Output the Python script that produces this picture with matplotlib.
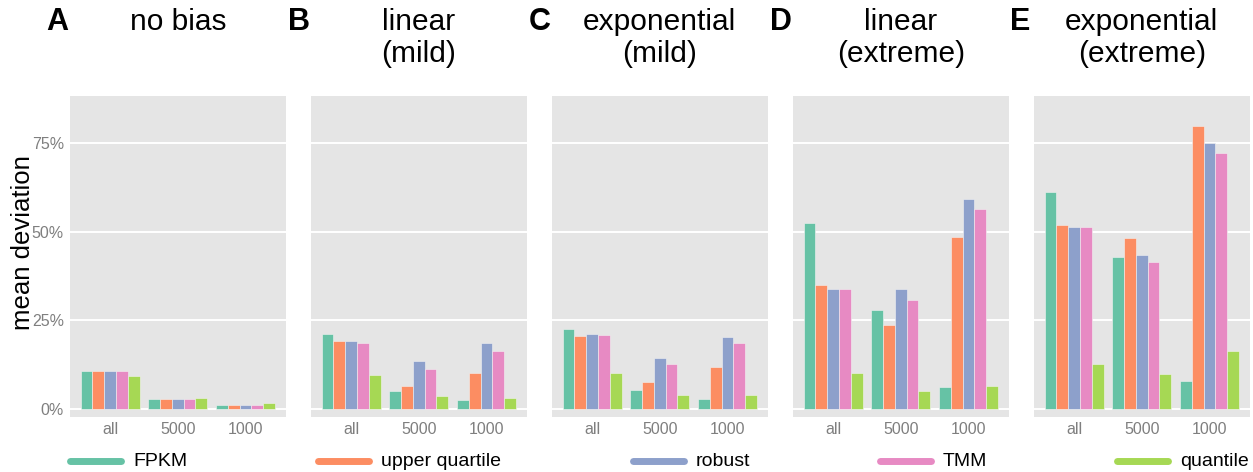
import matplotlib

matplotlib.use("Agg")
import matplotlib.pyplot as plt
import numpy as np
from matplotlib.lines import Line2D

plt.rcParams["font.family"] = ["Liberation Sans", "DejaVu Sans"]

# Daten
groups = ["all", "5000", "1000"]
methods = ["FPKM", "upper quartile", "robust", "TMM", "quantile"]
colors = ["#66C2A5", "#FC8D62", "#8DA0CB", "#E78AC3", "#A6D854"]
letters = ["A", "B", "C", "D", "E"]
titles = ["no bias", "linear\n(mild)", "exponential\n(mild)",
          "linear\n(extreme)", "exponential\n(extreme)"]

# mean deviation in %, one list per panel: rows = method, cols = group
no_bias = [[10.8, 2.7, 1.2], [10.8, 2.7, 1.2], [10.8, 2.7, 1.2],
           [10.8, 2.7, 1.2], [9.3, 3.0, 1.6]]
linear_mild = [[21.2, 5.0, 2.4], [19.1, 6.6, 10.1], [19.1, 13.4, 18.7],
               [18.7, 11.3, 16.4], [9.7, 3.6, 3.1]]
exp_mild = [[22.5, 5.2, 2.7], [20.6, 7.5, 11.9], [21.2, 14.4, 20.3],
            [20.9, 12.7, 18.5], [10.1, 3.9, 3.8]]
linear_extreme = [[52.6, 28.0, 6.1], [34.9, 23.6, 48.4], [33.9, 33.9, 59.2],
                  [33.9, 30.6, 56.3], [10.1, 5.0, 6.4]]
exp_extreme = [[61.2, 42.9, 7.8], [51.8, 48.3, 79.9], [51.4, 43.4, 75.1],
               [51.2, 41.4, 72.3], [12.6, 9.9, 16.2]]
panels = [no_bias, linear_mild, exp_mild, linear_extreme, exp_extreme]

W, H = 1253, 472
fig = plt.figure(figsize=(W / 100, H / 100), dpi=100)

panel_left0 = 69.5
panel_step = 241
panel_w = 216.5
panel_top = 96
panel_bot = 416.7

bar_w = 0.174
x = np.arange(1, len(groups) + 1)

for i, data in enumerate(panels):
    left = panel_left0 + i * panel_step
    ax = fig.add_axes([left / W, 1 - panel_bot / H, panel_w / W,
                       (panel_bot - panel_top) / H])
    ax.set_facecolor("#E5E5E5")
    for j, vals in enumerate(data):
        offs = (j - 2) * bar_w
        ax.bar(x + offs, vals, width=bar_w, color=colors[j],
               edgecolor="#F2F2F2", linewidth=0.4, zorder=3)
    ax.set_xlim(0.4, 3.6)
    ax.set_ylim(-2.2, 88.3)
    ax.set_yticks([0, 25, 50, 75])
    ax.set_xticks(x)
    ax.set_xticklabels(groups)
    ax.grid(axis="y", color="white", linewidth=1.4, zorder=0)
    ax.grid(axis="x", visible=False)
    for s in ax.spines.values():
        s.set_visible(False)
    ax.tick_params(length=0, labelsize=11.5, colors="#7F7F7F", pad=4)
    if i == 0:
        ax.set_yticklabels(["0%", "25%", "50%", "75%"])
    else:
        ax.set_yticklabels([])

    # Titel und Buchstabe
    cx = (left + panel_w / 2) / W
    fig.text(cx, 1 - 8 / H, titles[i], ha="center", va="top",
             fontsize=21.5, linespacing=1.2)
    fig.text((left - 23) / W, 1 - 7 / H, letters[i], ha="left", va="top",
             fontsize=22, fontweight="bold")

fig.text(23 / W, 1 - 242.5 / H, "mean deviation", rotation=90,
         ha="center", va="center", fontsize=18.5)

# Legende
leg_x = [70, 318, 633, 880, 1117]
leg_y = 1 - 461 / H
for k, m in enumerate(methods):
    x0 = leg_x[k]
    fig.add_artist(Line2D([x0 / W, (x0 + 51) / W], [leg_y, leg_y],
                          color=colors[k], linewidth=5,
                          solid_capstyle="round", transform=fig.transFigure))
    fig.text((x0 + 63) / W, leg_y, m, ha="left", va="center", fontsize=14)

fig.savefig("out.png", dpi=100)
